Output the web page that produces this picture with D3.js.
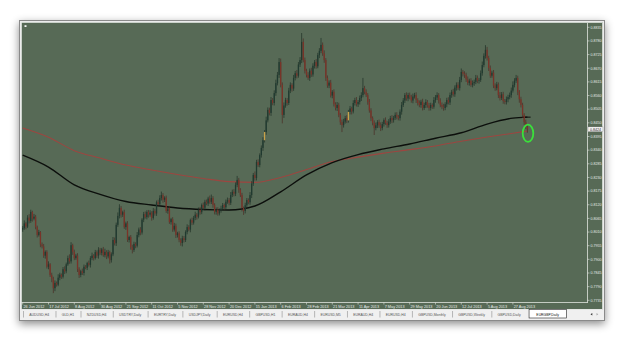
<!DOCTYPE html>
<html><head><meta charset="utf-8">
<script src="https://cdn.jsdelivr.net/npm/d3@7"></script>
<style>html,body{margin:0;padding:0;background:#fff;overflow:hidden}</style>
</head><body>
<svg id="c" width="625" height="341" xmlns="http://www.w3.org/2000/svg"></svg>
<script>
// ---------- data (prices in pips, 1 pip = 0.0001) ----------
const dateLabels = ["26 Jun 2012","17 Jul 2012","8 Aug 2012","30 Aug 2012","21 Sep 2012","11 Oct 2012","5 Nov 2012","28 Nov 2012","20 Dec 2012","15 Jan 2013","6 Feb 2013","28 Feb 2013","21 Mar 2013","11 Apr 2013","7 May 2013","29 May 2013","20 Jun 2013","12 Jul 2013","5 Aug 2013","27 Aug 2013"];
const barsPerLabel = 16;
const priceTicks = ["0.8835","0.8780","0.8725","0.8670","0.8615","0.8560","0.8505","0.8450","0.8395","0.8340","0.8285","0.8230","0.8175","0.8120","0.8065","0.8010","0.7955","0.7900","0.7845","0.7790","0.7735"];
const lastPrice = "0.8424";
const firstOpen = 8020;
const closes = [
8026,8045,8032,8068,8055,8091,8064,8072,8030,7998,8010,7960,7952,7915,7930,7870,7880,7837,7822,7784,
7805,7798,7826,7838,7830,7860,7852,7880,7905,7892,7957,7930,7905,7915,7860,7837,7852,7845,7870,7866,
7885,7878,7905,7915,7905,7929,7915,7938,7926,7940,7917,7930,7912,7929,7897,7920,7978,7965,8039,8075,
8107,8080,8090,8030,8045,7978,7990,7948,7938,7962,7955,7998,8020,8008,8060,8082,8070,8091,8080,8088,
8067,8095,8085,8130,8122,8147,8159,8140,8148,8095,8105,8050,8062,8020,8035,7998,8005,7978,7966,7985,
7978,8010,8030,8020,8058,8048,8067,8080,8072,8100,8090,8119,8108,8132,8125,8145,8132,8147,8120,8091,
8100,8085,8098,8105,8119,8110,8132,8139,8128,8159,8172,8165,8200,8220,8180,8159,8107,8095,8118,8139,
8130,8159,8205,8240,8228,8292,8280,8320,8349,8380,8413,8460,8502,8490,8542,8530,8570,8610,8643,8695,
8603,8482,8520,8542,8530,8580,8603,8588,8631,8650,8640,8685,8703,8776,8703,8660,8643,8631,8660,8645,
8680,8695,8678,8723,8740,8764,8730,8703,8631,8600,8612,8560,8575,8525,8510,8522,8482,8453,8441,8455,
8469,8460,8494,8508,8496,8530,8542,8525,8534,8550,8562,8590,8575,8562,8534,8500,8469,8450,8429,8440,
8453,8440,8429,8445,8461,8450,8441,8455,8469,8461,8470,8482,8475,8469,8495,8522,8540,8562,8548,8562,
8555,8540,8556,8562,8542,8530,8522,8535,8510,8522,8534,8520,8510,8522,8515,8542,8552,8562,8540,8522,
8515,8510,8525,8542,8532,8562,8575,8565,8592,8603,8590,8623,8655,8648,8643,8625,8611,8620,8603,8610,
8615,8631,8620,8623,8650,8683,8720,8744,8711,8671,8640,8652,8600,8590,8605,8562,8550,8565,8538,8534,
8545,8554,8562,8580,8603,8620,8631,8574,8545,8522,8482,8453,8435,8424];
const upperWick = [
8,12,6,10,14,9,5,11,7,6,9,4,8,10,6,7,12,5,9,8,
10,6,14,8,5,9,12,7,10,15,12,6,9,7,10,8,6,11,9,7,
5,10,8,12,6,9,7,11,8,6,10,13,7,9,6,8,12,10,9,14,
15,8,6,10,7,9,5,8,11,9,7,12,8,10,6,9,11,7,8,10,
6,12,9,7,10,11,14,8,6,9,7,10,5,8,12,9,6,8,7,10,
9,7,11,8,6,10,8,12,7,9,11,6,10,8,9,7,12,14,8,6,
9,10,7,11,8,6,9,10,8,12,9,11,10,16,8,7,9,6,10,8,
7,12,10,8,14,9,11,7,10,12,8,15,10,9,12,8,11,14,12,16,
14,10,12,9,8,11,10,7,12,9,13,10,12,36,14,10,8,11,9,12,
10,8,12,9,11,28,10,12,8,10,9,11,7,10,8,12,9,8,10,11,
9,12,8,10,7,11,9,12,8,10,11,41,9,10,8,12,9,7,10,11,
8,10,12,9,7,11,8,10,9,12,8,10,11,7,9,12,10,8,11,9,
10,8,12,9,11,7,10,8,12,9,11,8,10,9,7,12,10,11,8,9,
10,12,8,9,11,10,8,12,9,10,11,12,14,8,10,9,12,8,10,11,
9,12,10,8,11,14,10,19,12,9,10,8,11,9,10,8,12,9,10,8,
11,9,10,12,14,10,12,9,8,10,9,7,10,8];
const lowerWick = [
9,7,11,6,10,8,12,7,9,10,6,11,8,9,12,7,10,8,14,20,
12,8,6,10,9,7,11,8,6,10,9,12,8,7,11,12,9,8,10,6,
9,7,11,8,10,6,9,12,8,10,7,9,11,8,14,10,7,9,11,8,
10,12,9,7,11,8,10,9,14,8,10,7,9,11,8,10,6,9,12,8,
11,7,9,10,8,6,10,12,9,8,11,7,10,9,8,12,10,9,11,14,
10,8,9,7,11,10,8,9,12,7,10,8,9,11,7,10,8,9,12,10,
11,9,8,10,7,12,9,8,10,9,8,11,10,9,12,8,14,16,10,9,
8,10,12,9,11,10,8,9,10,12,9,11,8,10,12,9,10,11,9,12,
10,34,12,9,11,8,10,12,9,10,11,8,10,12,9,11,10,8,12,10,
9,11,10,8,12,9,10,11,12,9,10,8,11,9,10,12,9,11,28,10,
8,11,9,10,12,8,10,9,11,10,12,9,10,8,11,9,12,10,28,9,
11,10,12,9,10,8,11,10,9,12,10,8,11,9,10,12,8,10,9,11,
10,9,11,8,12,10,9,11,10,8,12,9,11,10,9,8,11,10,12,9,
10,11,9,12,8,10,11,9,10,12,8,10,9,11,12,10,9,11,8,10,
11,9,10,12,8,10,9,11,10,12,9,8,10,11,9,12,10,8,11,9,
10,12,9,11,8,10,9,12,14,10,12,11,10,14];
const highlightBars = [150, 202];
// moving averages read at every date label (bar index) plus the last bar
const maBars  = [0,16,32,48,64,80,96,112,128,144,160,176,192,208,224,240,256,272,288,304,313];
const maBlack = [8320,8272,8200,8162,8133,8119,8107,8101,8099,8115,8172,8240,8290,8322,8345,8365,8388,8410,8445,8469,8473];
const maRed   = [8429,8392,8338,8308,8280,8260,8242,8226,8213,8210,8230,8262,8294,8312,8328,8342,8357,8376,8393,8408,8417];
const tabs = ["AUDUSD,H4","GLD,H1","NZDUSD,H4","USDTRY,Daily","EURTRY,Daily","USDJPY,Daily","EURUSD,H4","GBPUSD,H1","EURAUD,H4","EURUSD,M5","EURAUD,H4","EURUSD,H4","GBPUSD,Monthly","GBPUSD,Weekly","GBPUSD,Daily","EURGBP,Daily"];
const activeTab = "EURGBP,Daily";

// ---------- drawing ----------
const svg = d3.select("#c");
const FONT = "'Liberation Sans', Arial, sans-serif";
const BG = "#576a56";

const nBars = closes.length;
const x = d3.scaleLinear().domain([0, 313]).range([22.7, 527.4]);
const y = d3.scaleLinear().domain([0.7735, 0.8835]).range([300.3, 27.3]);
const P = v => v / 10000;

const candles = closes.map((c, i) => {
  const o = i === 0 ? firstOpen : closes[i - 1];
  return {i, o: P(o), c: P(c), h: P(Math.max(o, c) + upperWick[i]), l: P(Math.min(o, c) - lowerWick[i])};
});

const defs = svg.append("defs");
const f = defs.append("filter").attr("id", "sh").attr("x", "-10%").attr("y", "-10%").attr("width", "120%").attr("height", "125%");
f.append("feDropShadow").attr("dx", 0).attr("dy", 3).attr("stdDeviation", 4.5).attr("flood-color", "#000").attr("flood-opacity", 0.45);
defs.append("clipPath").attr("id", "plot").append("rect").attr("x", 21).attr("y", 23).attr("width", 566.5).attr("height", 279.5);

// window
svg.append("rect").attr("x", 19.5).attr("y", 20.5).attr("width", 585).attr("height", 300)
  .attr("fill", "#ececec").attr("stroke", "#8a8a8a").attr("filter", "url(#sh)");
svg.append("rect").attr("x", 21).attr("y", 22).attr("width", 582).attr("height", 287.5).attr("fill", BG);
svg.append("rect").attr("x", 21.5).attr("y", 22.5).attr("width", 581).attr("height", 287).attr("fill", "none").attr("stroke", "#e8ece8").attr("stroke-width", 0.8);
svg.append("rect").attr("x", 24.5).attr("y", 25.2).attr("width", 2).attr("height", 1.8).attr("fill", "#f4f4f4");

const plot = svg.append("g").attr("clip-path", "url(#plot)");

// moving averages
const line = d3.line().x((d, k) => x(maBars[k])).y(d => y(P(d))).curve(d3.curveMonotoneX);
plot.append("path").attr("d", line(maRed)).attr("fill", "none").attr("stroke", "#9c4640").attr("stroke-width", 1.1);
plot.append("path").attr("d", line(maBlack)).attr("fill", "none").attr("stroke", "#0c0f0c").attr("stroke-width", 1.4);
plot.append("line").attr("x1", x(310)).attr("x2", x(315)).attr("y1", y(P(maBlack[maBlack.length - 1]))).attr("y2", y(P(maBlack[maBlack.length - 1])))
  .attr("stroke", "#0c0f0c").attr("stroke-width", 1);

// candles
const cg = plot.append("g");
cg.selectAll("line.w").data(candles).join("line").attr("class", "w")
  .attr("x1", d => x(d.i)).attr("x2", d => x(d.i)).attr("y1", d => y(d.h)).attr("y2", d => y(d.l))
  .attr("stroke", d => d.c >= d.o ? "#1a2c22" : "#4a2620").attr("stroke-width", 0.65);
cg.selectAll("rect.b").data(candles).join("rect").attr("class", "b")
  .attr("x", d => x(d.i) - 0.65).attr("width", 1.3)
  .attr("y", d => y(Math.max(d.o, d.c)))
  .attr("height", d => Math.max(0.5, Math.abs(y(d.o) - y(d.c))))
  .attr("fill", d => highlightBars.includes(d.i) ? "#c9a24a" : (d.c >= d.o ? "#203a30" : "#7a3328"));

// green circle around last bars
svg.append("ellipse").attr("cx", x(nBars - 1) + 0.6).attr("cy", y(P(closes[nBars - 1])) + 4)
  .attr("rx", 5.3).attr("ry", 8.6).attr("fill", "none").attr("stroke", "#3be03b").attr("stroke-width", 1.8);

// axes
const axC = "#dfe4de";
svg.append("line").attr("x1", 587.5).attr("x2", 587.5).attr("y1", 23).attr("y2", 302.5).attr("stroke", axC).attr("stroke-width", 0.8);
svg.append("line").attr("x1", 21).attr("x2", 588).attr("y1", 302.5).attr("y2", 302.5).attr("stroke", axC).attr("stroke-width", 0.8);

const yt = svg.append("g");
priceTicks.forEach(t => {
  const yy = y(+t);
  yt.append("line").attr("x1", 587.5).attr("x2", 589.5).attr("y1", yy).attr("y2", yy).attr("stroke", axC).attr("stroke-width", 0.6);
  yt.append("text").attr("x", 590.5).attr("y", yy).attr("dy", "0.35em").attr("font-family", FONT).attr("font-size", 3.6)
    .attr("fill", "#e6ebe6").text(t);
});
// current price box
const ly = y(+lastPrice);
svg.append("rect").attr("x", 588).attr("y", ly - 2.4).attr("width", 15).attr("height", 4.8).attr("fill", "#f4f4f4").attr("stroke", "#666").attr("stroke-width", 0.3);
svg.append("text").attr("x", 590).attr("y", ly).attr("dy", "0.35em").attr("font-family", FONT).attr("font-size", 3.6).attr("fill", "#222").text(lastPrice);

const xt = svg.append("g");
dateLabels.forEach((t, k) => {
  const xx = x(k * barsPerLabel);
  xt.append("line").attr("x1", xx).attr("x2", xx).attr("y1", 302.5).attr("y2", 304.5).attr("stroke", axC).attr("stroke-width", 0.6);
  xt.append("text").attr("x", xx + 0.8).attr("y", 306.6).attr("dy", "0.35em").attr("font-family", FONT).attr("font-size", 3.8)
    .attr("fill", "#e6ebe6").text(t);
});

// tab bar
svg.append("rect").attr("x", 20).attr("y", 309.5).attr("width", 584).attr("height", 10.5).attr("fill", "#f0f0f0");
const tg = svg.append("g");
let tx = 23;
const tabFs = 3.45, pad = 12.6;
tabs.forEach(t => {
  const active = t === activeTab;
  const tmp = tg.append("text").attr("font-family", FONT).attr("font-size", tabFs).text(t);
  const w = tmp.node().getComputedTextLength() + pad;
  tmp.remove();
  if (active) {
    tg.append("rect").attr("x", tx + 2).attr("y", 309.5).attr("width", w + 2).attr("height", 8.5).attr("fill", "#fff").attr("stroke", "#222").attr("stroke-width", 0.6);
  } else {
    tg.append("line").attr("x1", tx + 0.5).attr("x2", tx + 0.5).attr("y1", 311).attr("y2", 317.5).attr("stroke", "#7a7a7a").attr("stroke-width", 0.5);
  }
  tg.append("text").attr("x", tx + (active ? 3 : 0) + w / 2).attr("y", 314.4).attr("dy", "0.35em").attr("text-anchor", "middle")
    .attr("font-family", FONT).attr("font-size", tabFs).attr("fill", active ? "#111" : "#555").text(t);
  tx += w;
});
// scroll arrows
tg.append("path").attr("d", "M590.5,314.3 L592.3,313 L592.3,315.6 Z").attr("fill", "#333");
tg.append("path").attr("d", "M598.3,314.3 L596.5,313 L596.5,315.6 Z").attr("fill", "#aaa");
</script>
</body></html>
